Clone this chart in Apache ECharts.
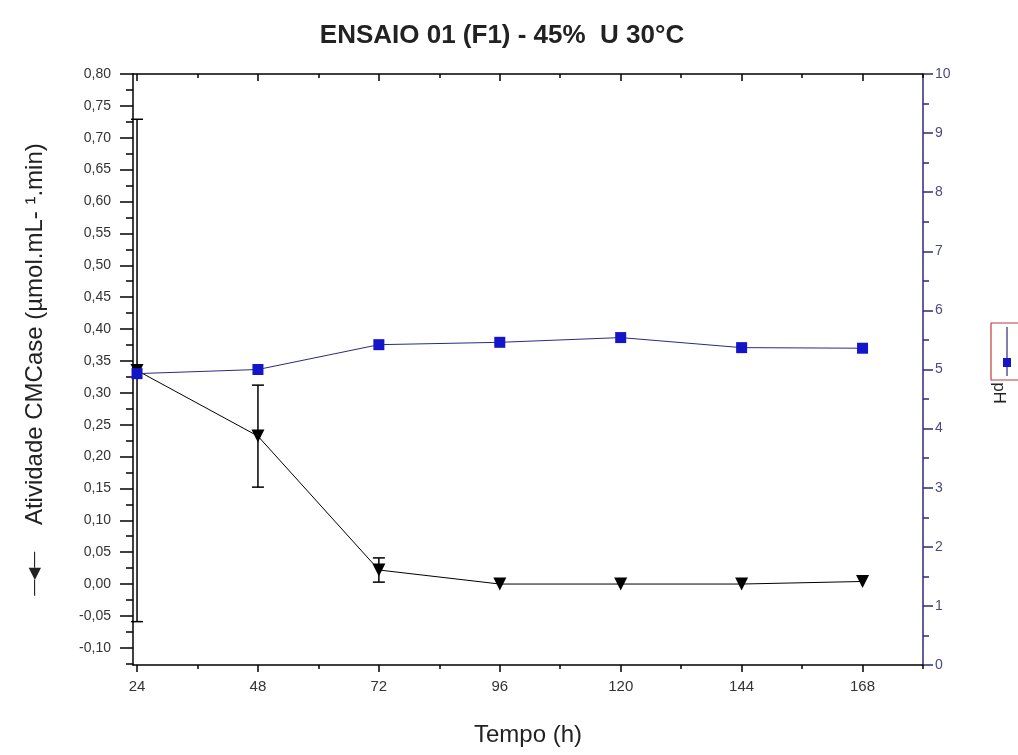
<!DOCTYPE html>
<html>
<head>
<meta charset="utf-8">
<script src="https://cdn.jsdelivr.net/npm/echarts@6/dist/echarts.min.js"></script>
<style>
  html, body { margin: 0; padding: 0; background: #fff; }
  #chart { width: 1018px; height: 755px; }
</style>
</head>
<body>
<div id="chart"></div>
<script>
// tempo (h)
const tempo = [24, 48, 72, 96, 120, 144, 168]
// atividade CMCase (umol.mL-1.min) and its error
const atividade = [0.335, 0.232, 0.022, 0, 0, 0, 0.004]
const atividadeErro = [0.394, 0.08, 0.019, 0, 0, 0, 0]
// pH
const ph = [4.93, 5.0, 5.42, 5.46, 5.54, 5.37, 5.36]

const xMajorTicks = [24, 48, 72, 96, 120, 144, 168]
const xMinorTicks = [36, 60, 84, 108, 132, 156, 180]
const yMajorTicks = [-0.1, -0.05, 0, 0.05, 0.1, 0.15, 0.2, 0.25, 0.3, 0.35, 0.4, 0.45, 0.5, 0.55, 0.6, 0.65, 0.7, 0.75, 0.8]
const yMinorTicks = [-0.125, -0.075, -0.025, 0.025, 0.075, 0.125, 0.175, 0.225, 0.275, 0.325, 0.375, 0.425, 0.475, 0.525, 0.575, 0.625, 0.675, 0.725, 0.775]

const font = 'Liberation Sans, Arial, sans-serif'
const navy = '#2b2b7e'

const chart = echarts.init(document.getElementById('chart'))

const errData = tempo.map((t, i) => [t, atividade[i] - atividadeErro[i], atividade[i] + atividadeErro[i]])
  .filter((d, i) => atividadeErro[i] > 0)

const xBase = { type: 'value', min: 23.2, max: 180, splitLine: { show: false } }
const yLeftBase = { type: 'value', min: -0.127, max: 0.8, splitLine: { show: false } }

const option = {
  backgroundColor: '#fff',
  animation: false,
  title: {
    text: 'ENSAIO 01 (F1) - 45%  U 30°C',
    left: 497,
    textAlign: 'center',
    top: 18,
    textStyle: { fontFamily: font, fontSize: 26, fontWeight: 'bold', color: '#222' }
  },
  grid: { left: 133, right: 95, top: 74, bottom: 90 },
  xAxis: [
    {
      ...xBase,
      position: 'bottom',
      name: 'Tempo (h)',
      nameLocation: 'middle',
      nameGap: 58,
      nameTextStyle: { fontFamily: font, fontSize: 24, color: '#222' },
      axisLine: { onZero: false, lineStyle: { color: '#000', width: 1.5 } },
      axisTick: { customValues: xMajorTicks, length: 7, lineStyle: { color: '#000', width: 1.5 } },
      axisLabel: { customValues: xMajorTicks, fontFamily: font, fontSize: 15, color: '#333', margin: 14 }
    },
    {
      ...xBase,
      position: 'bottom',
      axisLine: { show: false, onZero: false },
      axisTick: { customValues: xMinorTicks, length: 4, lineStyle: { color: '#000', width: 1.5 } },
      axisLabel: { show: false }
    },
    {
      ...xBase,
      position: 'top',
      axisLine: { onZero: false, lineStyle: { color: '#000', width: 1.5 } },
      axisTick: { customValues: xMajorTicks, inside: true, length: 7, lineStyle: { color: '#000', width: 1.5 } },
      axisLabel: { show: false }
    },
    {
      ...xBase,
      position: 'top',
      axisLine: { show: false, onZero: false },
      axisTick: { customValues: xMinorTicks, inside: true, length: 4, lineStyle: { color: '#000', width: 1.5 } },
      axisLabel: { show: false }
    }
  ],
  yAxis: [
    {
      ...yLeftBase,
      position: 'left',
      name: '{s|—◀—}    Atividade CMCase (µmol.mL- ¹.min)',
      nameLocation: 'middle',
      nameRotate: 90,
      nameGap: 86,
      nameTextStyle: {
        fontFamily: font, fontSize: 24, color: '#222',
        rich: { s: { fontFamily: font, fontSize: 16, color: '#222' } }
      },
      axisLine: { onZero: false, lineStyle: { color: '#000', width: 1.5 } },
      axisTick: { customValues: yMajorTicks, length: 13, lineStyle: { color: '#000', width: 1.5 } },
      axisLabel: {
        customValues: yMajorTicks,
        fontFamily: font, fontSize: 14, color: '#333', margin: 22,
        formatter: v => v.toFixed(2).replace('.', ',')
      }
    },
    {
      ...yLeftBase,
      position: 'left',
      axisLine: { show: false, onZero: false },
      axisTick: { customValues: yMinorTicks, length: 7, lineStyle: { color: '#000', width: 1.5 } },
      axisLabel: { show: false }
    },
    {
      type: 'value',
      position: 'right',
      min: 0,
      max: 10,
      interval: 1,
      splitLine: { show: false },
      axisLine: { onZero: false, lineStyle: { color: navy, width: 1.5 } },
      axisTick: { length: 10, lineStyle: { color: navy, width: 1.5 } },
      minorTick: { show: true, splitNumber: 2, length: 6, lineStyle: { color: navy, width: 1.5 } },
      axisLabel: { fontFamily: font, fontSize: 14, color: '#4a4a80', margin: 12 }
    }
  ],
  graphic: [
    {
      type: 'rect',
      shape: { x: 991, y: 323, width: 40, height: 57 },
      style: { fill: '#fff', stroke: '#c23a3a', lineWidth: 1.2 }
    },
    {
      type: 'line',
      shape: { x1: 1007, y1: 327, x2: 1007, y2: 376 },
      style: { stroke: navy, lineWidth: 1.2 }
    },
    {
      type: 'rect',
      shape: { x: 1003, y: 358, width: 8, height: 9 },
      style: { fill: '#1414c8' }
    },
    {
      type: 'text',
      x: 999,
      y: 393,
      rotation: -Math.PI / 2,
      style: { text: 'pH', fontFamily: font, fontSize: 17, fill: '#222', align: 'center', verticalAlign: 'middle' }
    }
  ],
  series: [
    {
      name: 'erro',
      type: 'custom',
      xAxisIndex: 0,
      yAxisIndex: 0,
      data: errData,
      z: 3,
      renderItem: (params, api) => {
        const x = api.value(0)
        const lo = api.coord([x, api.value(1)])
        const hi = api.coord([x, api.value(2)])
        const w = 6
        const st = { stroke: '#000', lineWidth: 1.5 }
        return {
          type: 'group',
          children: [
            { type: 'line', shape: { x1: lo[0], y1: lo[1], x2: hi[0], y2: hi[1] }, style: st },
            { type: 'line', shape: { x1: lo[0] - w, y1: lo[1], x2: lo[0] + w, y2: lo[1] }, style: st },
            { type: 'line', shape: { x1: hi[0] - w, y1: hi[1], x2: hi[0] + w, y2: hi[1] }, style: st }
          ]
        }
      }
    },
    {
      name: 'Atividade CMCase',
      type: 'line',
      xAxisIndex: 0,
      yAxisIndex: 0,
      data: tempo.map((t, i) => [t, atividade[i]]),
      symbol: 'triangle',
      symbolRotate: 180,
      symbolSize: 13,
      z: 4,
      lineStyle: { color: '#000', width: 1 },
      itemStyle: { color: '#000' }
    },
    {
      name: 'pH',
      type: 'line',
      xAxisIndex: 0,
      yAxisIndex: 2,
      data: tempo.map((t, i) => [t, ph[i]]),
      symbol: 'rect',
      symbolSize: 11,
      z: 5,
      lineStyle: { color: navy, width: 1 },
      itemStyle: { color: '#1414c8' }
    }
  ]
}

chart.setOption(option)
</script>
</body>
</html>
